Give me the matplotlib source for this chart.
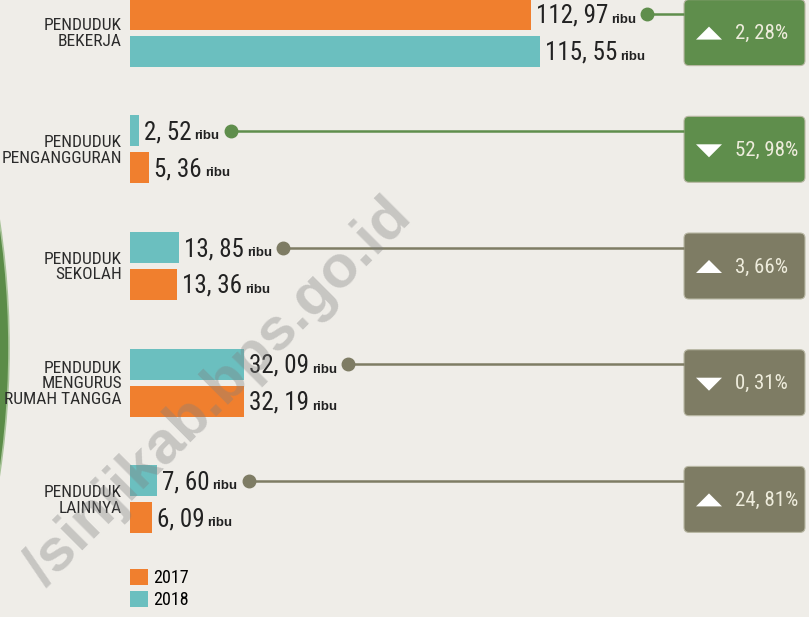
import numpy as np
import matplotlib
matplotlib.use("Agg")
import matplotlib.pyplot as plt
from matplotlib import font_manager as fm
from matplotlib.font_manager import FontProperties
from matplotlib.patches import Circle, FancyBboxPatch, Polygon

# data (ribu jiwa)
categories = [
    "PENDUDUK\nBEKERJA",
    "PENDUDUK\nPENGANGGURAN",
    "PENDUDUK\nSEKOLAH",
    "PENDUDUK\nMENGURUS\nRUMAH TANGGA",
    "PENDUDUK\nLAINNYA",
]
val_2017 = [112.97, 5.36, 13.36, 32.19, 6.09]
val_2018 = [115.55, 2.52, 13.85, 32.09, 7.60]
pct_change = [2.28, -52.98, 3.66, -0.31, 24.81]
top_year = ["2017", "2018", "2018", "2018", "2018"]

# style
bg = "#efede8"
orange = "#f07f2e"
teal = "#6bbfbf"
green = "#5f8e4c"
olive = "#7e7c64"
box_colors = [green, green, olive, olive, olive]

names = {f.name for f in fm.fontManager.ttflist}
narrow = "DejaVu Sans"
for cand in ["Liberation Sans Narrow", "Roboto Condensed", "Open Sans Condensed"]:
    if cand in names:
        narrow = cand
        break
stretch = "condensed" if narrow == "DejaVu Sans" else "normal"


def fp(size, weight="normal", family=None):
    return FontProperties(family=family or narrow, size=size, weight=weight, stretch=stretch)


def fmt(v):
    return f"{v:.2f}".replace(".", ", ")


W, H = 809, 617
fig = plt.figure(figsize=(W / 100, H / 100), dpi=100, facecolor=bg)

# background / decoration layer in pixel coordinates
deco = fig.add_axes([0, 0, 1, 1], zorder=0)
deco.set_xlim(0, W)
deco.set_ylim(H, 0)
deco.axis("off")
deco.add_patch(Circle((-842, 348), 851, fc="#5b8c48", ec="#a9c49a", lw=1.2))

# bar layer: x in data units, y in pixels
ax = fig.add_axes([0, 0, 1, 1], zorder=1)
ax.patch.set_visible(False)
px_per = 3.55
ax.set_xlim(-130 / px_per, (W - 130) / px_per)
ax.set_ylim(H, 0)
ax.axis("off")

gc = 266 + (np.arange(len(categories)) - 2) * 116.7
y17 = np.array([c - 18.5 if t == "2017" else c + 18.5 for c, t in zip(gc, top_year)])
y18 = np.array([c + 18.5 if t == "2017" else c - 18.5 for c, t in zip(gc, top_year)])

ax.barh(y17, val_2017, height=31, color=orange, label="2017")
ax.barh(y18, val_2018, height=31, color=teal, label="2018")

ax.legend(loc="upper left", bbox_to_anchor=(130 / W, 1 - 569 / H),
          bbox_transform=fig.transFigure, frameon=False,
          handlelength=1.0, handleheight=1.0, handletextpad=0.3,
          labelspacing=0.2, borderpad=0, borderaxespad=0, prop=fp(13))

# category labels
for c, lab in zip(gc, categories):
    deco.text(122, c + 1, lab, ha="right", va="center", multialignment="right",
              linespacing=1.05, fontproperties=fp(12.5), color="#2b2b2b")

renderer = fig.canvas.get_renderer()

for i in range(len(categories)):
    ribu_ends = {}
    for year, vals, ys in (("2017", val_2017, y17), ("2018", val_2018, y18)):
        x_end = ax.transData.transform((vals[i], ys[i]))[0]
        num = deco.text(x_end + 5, ys[i] + 8.5, fmt(vals[i]), ha="left",
                        va="baseline", fontproperties=fp(18), color="#222222")
        bb = num.get_window_extent(renderer)
        rb = deco.text(bb.x1 + 3, ys[i] + 8.5, "ribu", ha="left", va="baseline",
                       fontproperties=fp(9.5, "bold", "Liberation Sans"),
                       color="#222222")
        ribu_ends[year] = (rb.get_window_extent(renderer).x1, ys[i])

    # connector from the upper bar label to the change box
    dx, dy = ribu_ends[top_year[i]]
    dx += 11
    col = box_colors[i]
    deco.plot([dx, 684], [dy, dy], color=col, lw=1.8, solid_capstyle="butt")
    deco.plot([dx], [dy], "o", color=col, ms=9)

    # change box
    c = gc[i]
    deco.add_patch(FancyBboxPatch((684, c - 33), 121, 66,
                                  boxstyle="round,pad=0,rounding_size=5",
                                  fc=col, ec="#b9b8a4", lw=0.8))
    tc = c + 1
    if pct_change[i] >= 0:
        tri = [(696, tc + 6), (722, tc + 6), (709, tc - 7)]
    else:
        tri = [(696, tc - 6), (722, tc - 6), (709, tc + 7)]
    deco.add_patch(Polygon(tri, closed=True, fc="white", ec="none"))
    deco.text(735, tc, fmt(abs(pct_change[i])) + "%", ha="left", va="center",
              fontproperties=fp(15), color="#eeecdc")

# watermark
fig.text(218 / W, 1 - 392 / H, "/sinjikab.bps.go.id", rotation=45,
         ha="center", va="center", fontsize=43, fontweight="bold",
         family="Liberation Sans", color="#808080", alpha=0.36, zorder=10)

fig.savefig("out.png", dpi=100, facecolor=bg)
